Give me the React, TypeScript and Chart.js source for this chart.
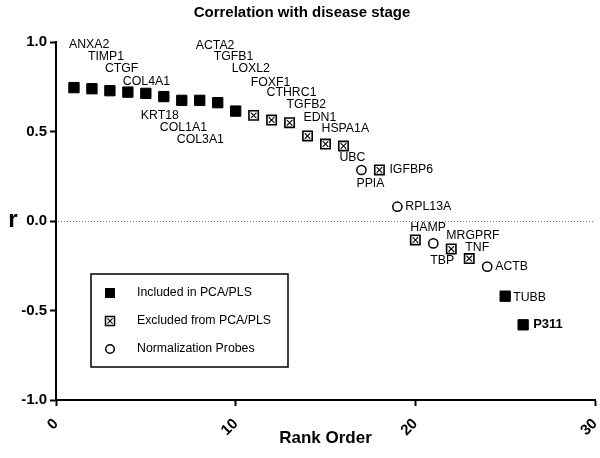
import React, { useEffect, useRef } from "react";
import { Chart, registerables } from "chart.js";

Chart.register(...registerables);

const TITLE = "Correlation with disease stage";
const X_TITLE = "Rank Order";
const Y_TITLE = "r";

const RANKS = [1, 2, 3, 4, 5, 6, 7, 8, 9, 10, 11, 12, 13, 14, 15, 16, 17, 18, 19, 20, 21, 22, 23, 24, 25, 26];
const GENES = [
  "ANXA2", "TIMP1", "CTGF", "COL4A1", "KRT18", "COL1A1", "COL3A1", "ACTA2", "TGFB1", "LOXL2",
  "FOXF1", "CTHRC1", "TGFB2", "EDN1", "HSPA1A", "UBC", "PPIA", "IGFBP6", "RPL13A", "HAMP",
  "TBP", "MRGPRF", "TNF", "ACTB", "TUBB", "P311",
];
const R_VALUES = [
  0.745, 0.739, 0.728, 0.72, 0.713, 0.695, 0.674, 0.674, 0.661, 0.614,
  0.59, 0.564, 0.549, 0.475, 0.43, 0.419, 0.285, 0.285, 0.08, -0.106,
  -0.125, -0.156, -0.21, -0.255, -0.42, -0.58,
];
// 0 = included, 1 = excluded, 2 = normalization
const GROUPS = [0, 0, 0, 0, 0, 0, 0, 0, 0, 0, 1, 1, 1, 1, 1, 1, 2, 1, 2, 1, 2, 1, 1, 2, 0, 0];
const GROUP_NAMES = ["Included in PCA/PLS", "Excluded from PCA/PLS", "Normalization Probes"];
const X_TICKS = [0, 10, 20, 30];
const Y_TICKS = [-1, -0.5, 0, 0.5, 1];

// label placement relative to each point (pixels): dx, dy
const LABEL_OFFSETS: [number, number][] = [
  [-5, -43], [-4, -32], [-5, -22], [-5, -11], [-5, 22], [-4, 31], [-5, 39], [-4, -55], [-4, -46], [-4, -42],
  [-3, -33], [-5, -27], [-3, -18], [-4, -18], [-4, -15], [-4, 12], [-5, 14], [10, 0], [8, 0], [-5, -12],
  [-3, 17], [-5, -13], [-4, -11], [8, 0], [8, 1], [10, 0],
];

const FONT = "'Liberation Sans', Arial, sans-serif";

export default function App() {
  const ref = useRef<HTMLCanvasElement>(null);

  useEffect(() => {
    const canvas = ref.current;
    if (!canvas) return;

    const pts = (g: number) =>
      RANKS.map((x, i) => ({ x, y: R_VALUES[i], g: GROUPS[i] }))
        .filter((p) => p.g === g)
        .map((p) => ({ x: p.x, y: p.y }));

    const overlay = {
      id: "overlay",
      beforeDatasetsDraw(chart: any) {
        const { ctx, chartArea, scales } = chart;
        const y0 = scales.y.getPixelForValue(0);
        ctx.save();
        ctx.strokeStyle = "#777";
        ctx.lineWidth = 1;
        ctx.setLineDash([1, 2]);
        ctx.beginPath();
        ctx.moveTo(chartArea.left + 2, Math.round(y0) + 0.5);
        ctx.lineTo(chartArea.right, Math.round(y0) + 0.5);
        ctx.stroke();
        ctx.restore();
      },
      afterDraw(chart: any) {
        const { ctx, chartArea, scales } = chart;
        ctx.save();
        ctx.fillStyle = "#000";
        ctx.font = `bold 15px ${FONT}`;
        ctx.textAlign = "center";
        ctx.textBaseline = "middle";
        ctx.fillText(TITLE, 302, 13);
        ctx.font = `bold 17px ${FONT}`;
        ctx.fillText(X_TITLE, (chartArea.left + chartArea.right) / 2, 438);
        ctx.font = `bold 24px ${FONT}`;
        ctx.fillText(Y_TITLE, 13, scales.y.getPixelForValue(0) - 1);

        ctx.textAlign = "left";
        RANKS.forEach((r, i) => {
          const px = scales.x.getPixelForValue(r);
          const py = scales.y.getPixelForValue(R_VALUES[i]);
          const [dx, dy] = LABEL_OFFSETS[i];
          ctx.font = GENES[i] === "P311" ? `bold 13px ${FONT}` : `12.3px ${FONT}`;
          ctx.fillText(GENES[i], px + dx, py + dy);
        });

        // legend
        ctx.lineWidth = 1.5;
        ctx.strokeStyle = "#000";
        ctx.strokeRect(91, 274, 197, 93);
        const rows = [293, 321, 349];
        ctx.font = `12.3px ${FONT}`;
        GROUP_NAMES.forEach((name, k) => {
          const y = rows[k];
          const x = 110;
          if (k === 0) {
            ctx.fillRect(x - 5, y - 5, 10, 10);
          } else if (k === 1) {
            ctx.lineWidth = 1.5;
            ctx.strokeRect(x - 4.5, y - 4.5, 9, 9);
            ctx.lineWidth = 1.1;
            ctx.beginPath();
            ctx.moveTo(x - 2.6, y - 2.6);
            ctx.lineTo(x + 2.6, y + 2.6);
            ctx.moveTo(x + 2.6, y - 2.6);
            ctx.lineTo(x - 2.6, y + 2.6);
            ctx.stroke();
          } else {
            ctx.beginPath();
            ctx.lineWidth = 1.5;
            ctx.arc(x, y, 4.3, 0, Math.PI * 2);
            ctx.fillStyle = "#fff";
            ctx.fill();
            ctx.stroke();
            ctx.fillStyle = "#000";
          }
          ctx.fillText(name, 137, y);
        });
        ctx.restore();
      },
    };

    const tickFont = { family: FONT, size: 15, weight: "bold" as const };
    const grid = {
      drawOnChartArea: false,
      drawTicks: true,
      tickLength: 6,
      color: "#000",
      tickColor: "#000",
      tickWidth: 2,
    };

    const chart = new Chart(canvas, {
      type: "scatter",
      data: {
        datasets: [
          {
            label: GROUP_NAMES[0],
            data: pts(0),
            pointStyle: "rect",
            pointRadius: 7.3,
            backgroundColor: "#000",
            borderColor: "#000",
            borderWidth: 1,
            order: 1,
          },
          {
            label: GROUP_NAMES[1] + " (cross)",
            data: pts(1),
            pointStyle: "crossRot",
            pointRadius: 4,
            backgroundColor: "#000",
            borderColor: "#000",
            borderWidth: 1.1,
            order: 0,
          },
          {
            label: GROUP_NAMES[1],
            data: pts(1),
            pointStyle: "rect",
            pointRadius: 6.6,
            backgroundColor: "#fff",
            borderColor: "#000",
            borderWidth: 1.6,
            order: 1,
          },
          {
            label: GROUP_NAMES[2],
            data: pts(2),
            pointStyle: "circle",
            pointRadius: 4.6,
            backgroundColor: "#fff",
            borderColor: "#000",
            borderWidth: 1.5,
            order: 1,
          },
        ],
      },
      options: {
        responsive: false,
        animation: false,
        layout: { autoPadding: false, padding: { top: 42, right: 5, left: 0, bottom: 0 } },
        plugins: { legend: { display: false }, tooltip: { enabled: false }, title: { display: false } },
        scales: {
          x: {
            type: "linear",
            min: 0,
            max: 30,
            afterBuildTicks: (s: any) => {
              s.ticks = X_TICKS.map((v) => ({ value: v }));
            },
            afterFit: (s: any) => {
              s.height = 58;
              s.paddingRight = 0;
              s.paddingLeft = 0;
            },
            ticks: {
              color: "#000",
              font: tickFont,
              minRotation: 45,
              maxRotation: 45,
              padding: 9,
              autoSkip: false,
            },
            grid,
            border: { display: true, color: "#000", width: 2 },
          },
          y: {
            type: "linear",
            min: -1,
            max: 1,
            afterBuildTicks: (s: any) => {
              s.ticks = Y_TICKS.map((v) => ({ value: v }));
            },
            afterFit: (s: any) => {
              s.width = 56;
              s.paddingTop = 0;
              s.paddingBottom = 0;
            },
            ticks: {
              color: "#000",
              font: tickFont,
              padding: 3,
              callback: (v: any) => Number(v).toFixed(1),
            },
            grid,
            border: { display: true, color: "#000", width: 2 },
          },
        },
      },
      plugins: [overlay],
    });
    return () => chart.destroy();
  }, []);

  return (
    <div style={{ position: "fixed", left: 0, top: 0, width: 600, height: 458, background: "#fff" }}>
      <canvas ref={ref} width={600} height={458} style={{ display: "block" }} />
    </div>
  );
}
